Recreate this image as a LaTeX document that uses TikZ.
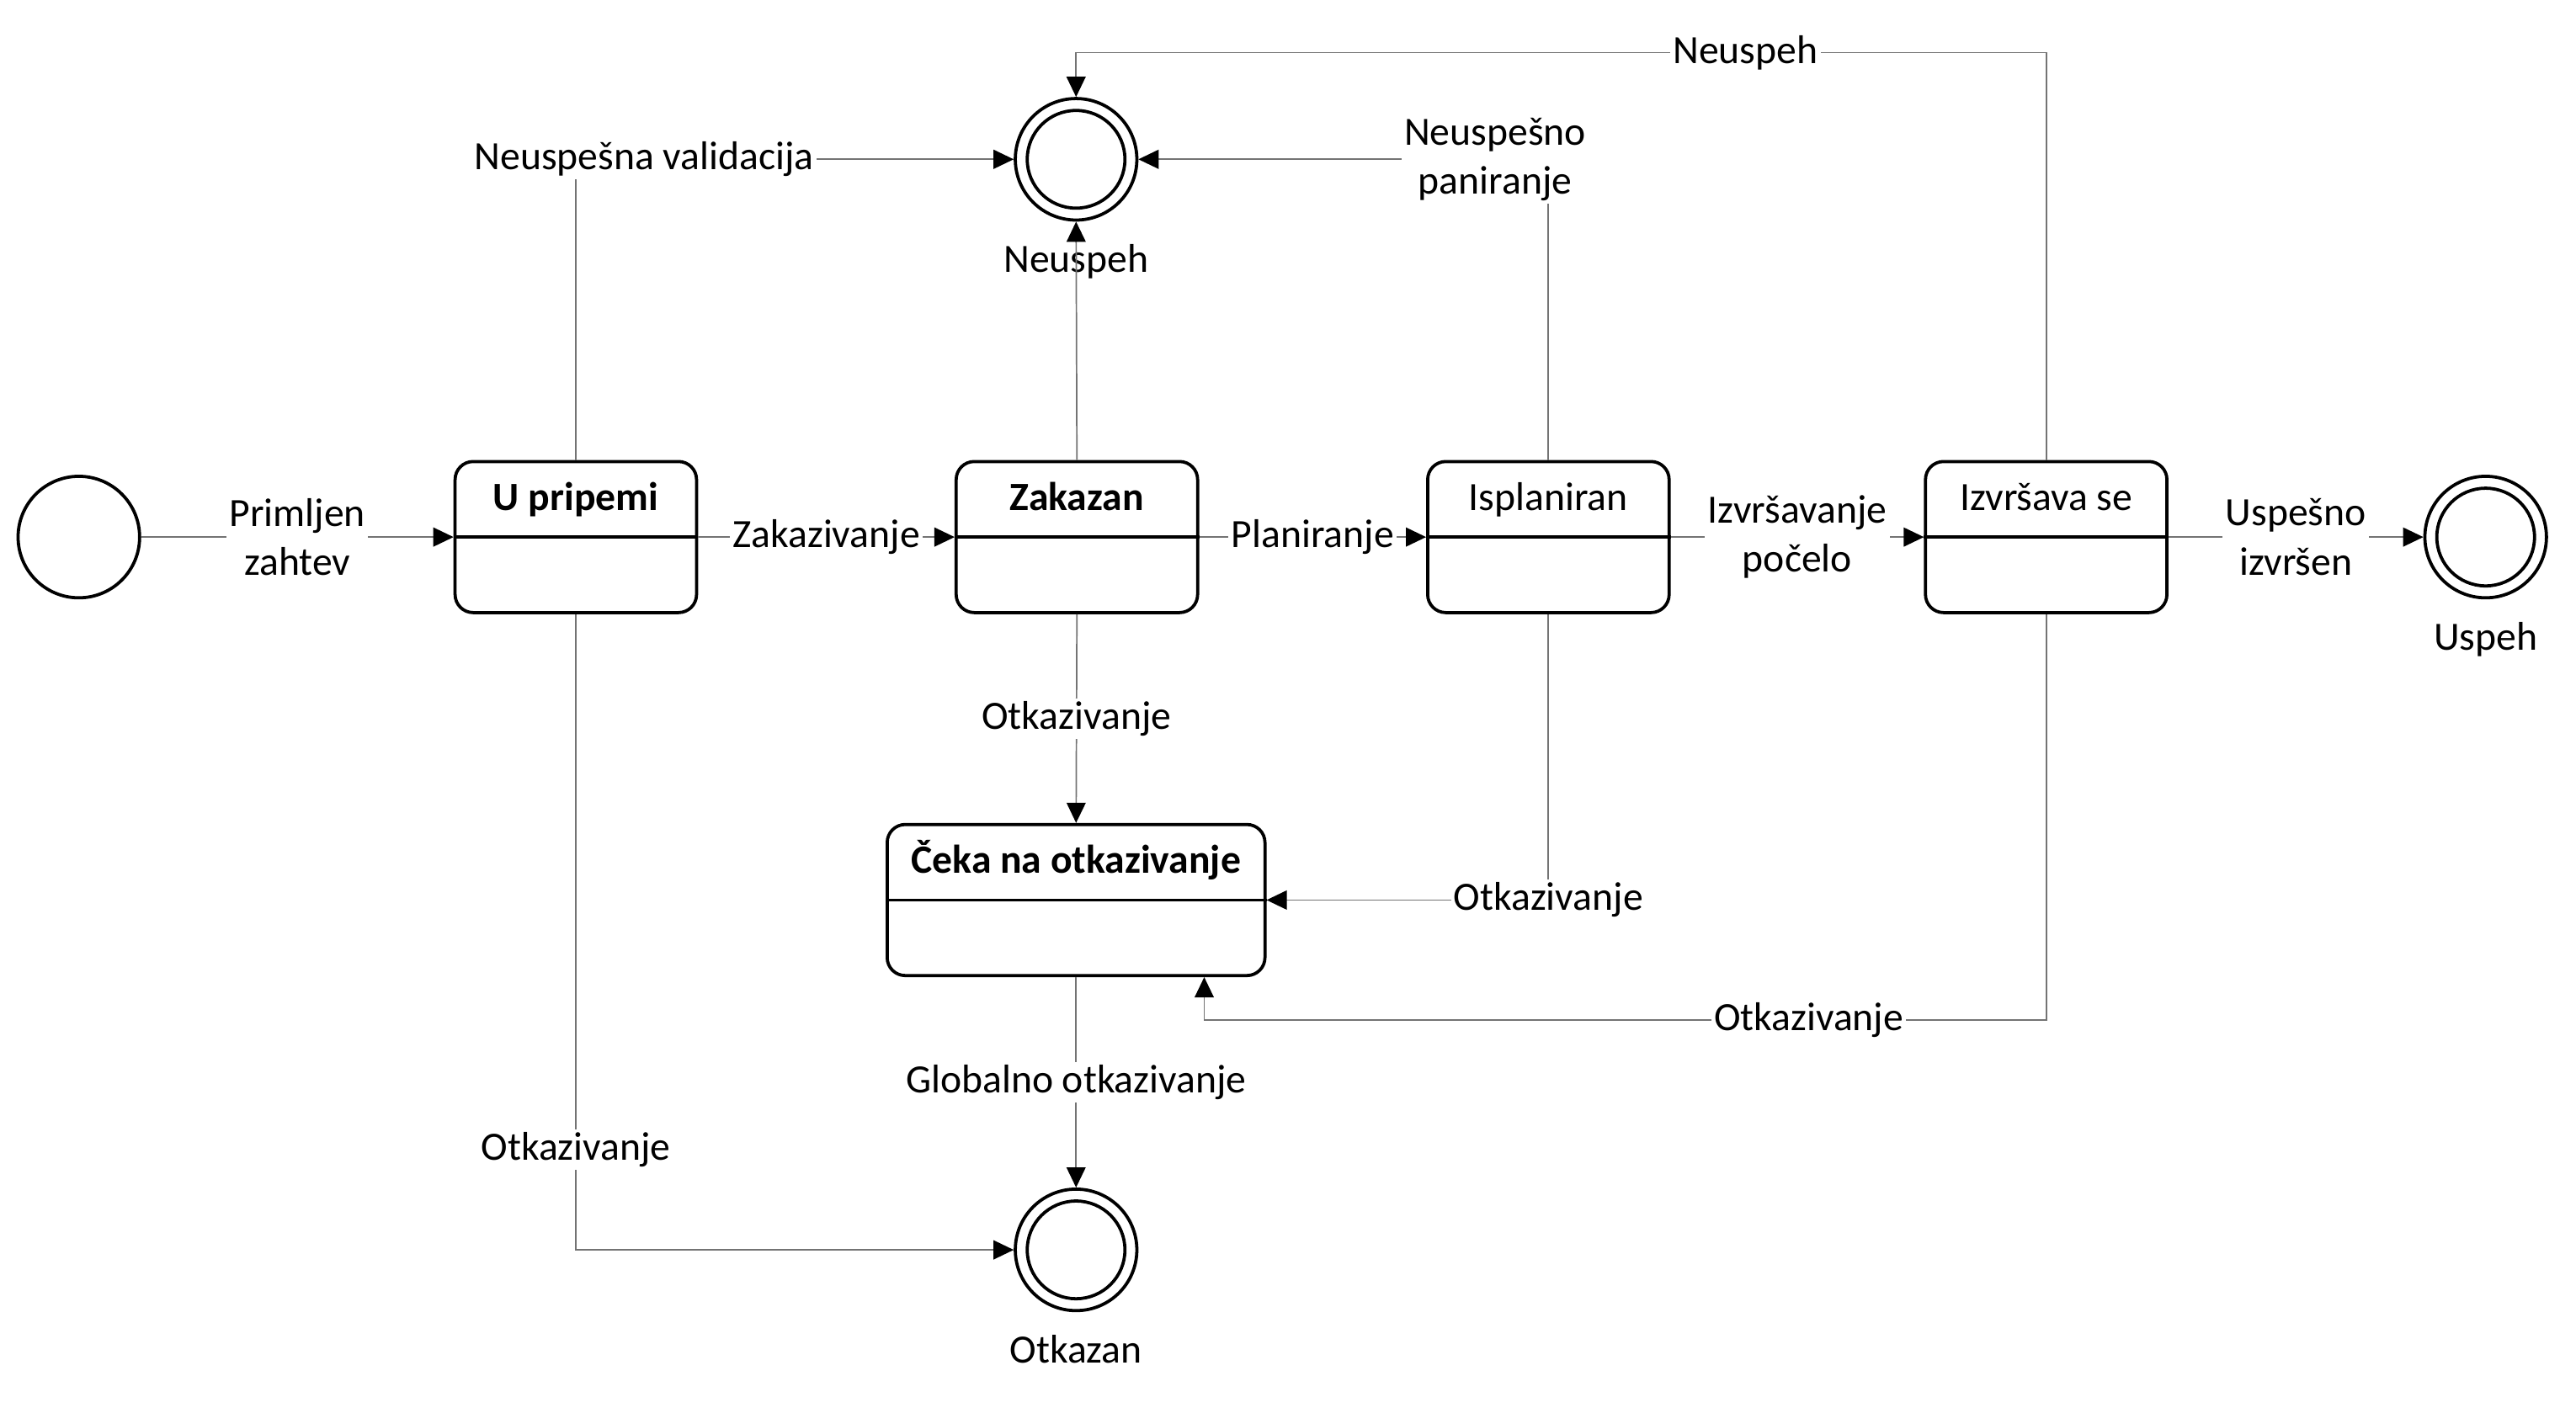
\documentclass[tikz,border=0pt]{standalone}
\usepackage{fontspec}
\setmainfont{Carlito}
\usepackage{tikz}
\usetikzlibrary{arrows.meta, positioning, calc}

\newcommand{\diagfont}{\fontsize{13.9pt}{17pt}\selectfont}

\tikzset{
  statebox/.style={draw, line width=1.1pt, rounded corners=0.22cm, minimum width=2.94cm, minimum height=1.84cm, inner sep=0pt},
  startstate/.style={draw, circle, line width=1.1pt, minimum size=1.48cm, inner sep=0pt},
  endstate/.style={draw, circle, line width=1.1pt, minimum size=1.48cm, inner sep=0pt},
  conn/.style={draw=black!55, line width=0.5pt, -{Triangle[length=7pt, width=6.6pt, color=black]}},
  lbl/.style={fill=white, inner sep=1pt, align=center},
  ttl/.style={anchor=base, inner sep=0pt},
  boldttl/.style={ttl, font=\diagfont\bfseries}
}

\begin{document}
\begin{tikzpicture}[x=0.02cm, y=-0.02cm, font=\diagfont]
  \useasboundingbox (0,0) rectangle (1568,857);
  % --- states ------------------------------------------------------
  \node[startstate] (init) at (48,327) {};
  \node[statebox] (upr) at (350.5,327) {};
  \node[statebox] (zak) at (655.5,327) {};
  \node[statebox] (isp) at (942.5,327) {};
  \node[statebox] (izv) at (1245.5,327) {};
  \node[statebox, minimum width=4.6cm] (ceka) at (655,548) {};
  \foreach \s in {upr, zak, isp, izv, ceka}
    \draw[line width=1.1pt] (\s.west) -- (\s.east);
  \node[boldttl] (uprttl) at ($(upr.north)+(0,30.5)$) {U pripemi};
  \node[boldttl] (zakttl) at ($(zak.north)+(0,30.5)$) {Zakazan};
  \node[ttl] (ispttl) at ($(isp.north)+(0,30.5)$) {Isplaniran};
  \node[ttl] (izvttl) at ($(izv.north)+(0,30.5)$) {Izvršava se};
  \node[boldttl] (cekattl) at ($(ceka.north)+(0,30.5)$) {Čeka na otkazivanje};
  % --- final states ------------------------------------------------
  \node[endstate] (neus) at (655,97) {};
  \node[endstate] (usp) at (1513,327) {};
  \node[endstate] (otk) at (655,761) {};
  \foreach \s in {neus, usp, otk}
    \draw[line width=1.1pt] (\s) circle (0.595cm);
  \node[ttl] (neuscap) at ($(neus.south)+(0,31)$) {Neuspeh};
  \node[ttl] (uspcap) at ($(usp.south)+(0,31)$) {Uspeh};
  \node[ttl] (otkcap) at ($(otk.south)+(0,31)$) {Otkazan};
  % --- transitions -------------------------------------------------
  \draw[conn] (init) -- node[lbl] {Primljen\\zahtev} (upr);
  \draw[conn] (upr) -- node[lbl] {Zakazivanje} (zak);
  \draw[conn] (zak) -- node[lbl] {Planiranje} (isp);
  \draw[conn] (isp) -- node[lbl] {Izvršavanje\\počelo} (izv);
  \draw[conn] (izv) -- node[lbl] {Uspešno\\izvršen} (usp);
  % failures
  \draw[conn] (upr.north) |- node[lbl, pos=0.578] {Neuspešna validacija} (neus.west);
  \draw[conn] (zak.north) -- (neus.south);
  \draw[conn] (isp.north) |- node[lbl, pos=0.565] {Neuspešno\\paniranje} (neus.east);
  \coordinate (nbend) at (1245.5,32);
  \draw[conn] (izv.north) -- (nbend) -| node[lbl, pos=0.155] {Neuspeh} (neus.north);
  % cancellations
  \draw[conn] (zak.south) -- node[lbl] {Otkazivanje} (ceka.north);
  \draw[conn] (isp.south) |- node[lbl] {Otkazivanje} (ceka.east);
  \coordinate (cbend) at (733,621);
  \draw[conn] (izv.south) |- node[lbl, pos=0.641] {Otkazivanje} (cbend) -- (cbend |- ceka.south);
  \draw[conn] (ceka.south) -- node[lbl] {Globalno otkazivanje} (otk.north);
  \draw[conn] (upr.south) |- node[lbl, pos=0.421] {Otkazivanje} (otk.west);
\end{tikzpicture}
\end{document}
